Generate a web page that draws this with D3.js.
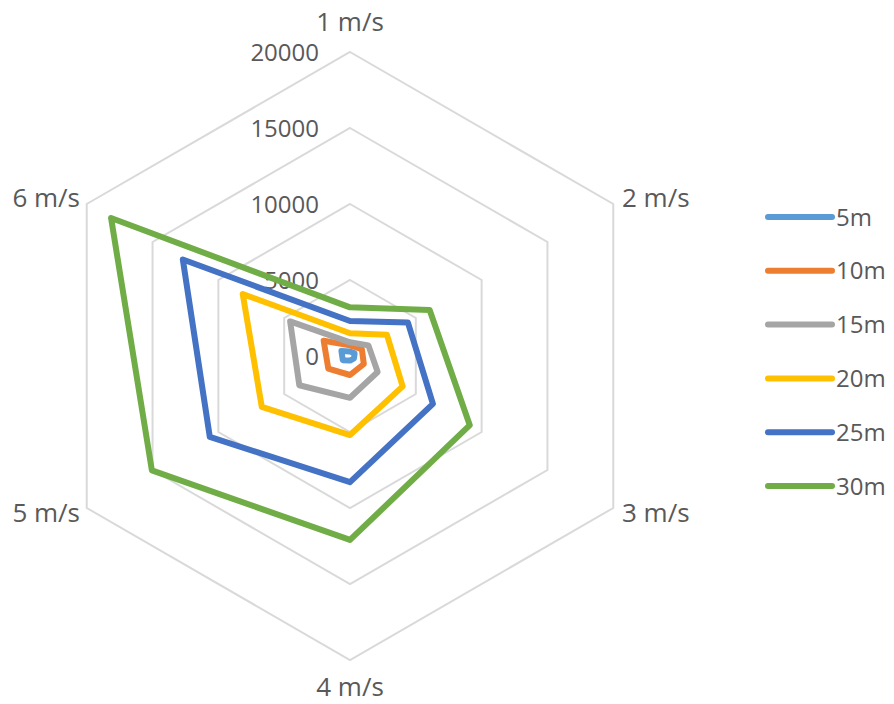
<!DOCTYPE html>
<html>
<head>
<meta charset="utf-8">
<script src="https://cdn.jsdelivr.net/npm/d3@7"></script>
<style>
  html, body { margin: 0; padding: 0; background: #fff; }
  svg { display: block; font-family: "Open Sans", sans-serif; }
</style>
</head>
<body>
<svg id="chart" width="894" height="704"></svg>
<script>
const categories = ["1 m/s", "2 m/s", "3 m/s", "4 m/s", "5 m/s", "6 m/s"];
const seriesNames = ["5m", "10m", "15m", "20m", "25m", "30m"];
const s5m  = [300, 350, 300, 300, 550, 650];
const s10m = [700, 900, 1050, 1250, 1650, 2000];
const s15m = [900, 1400, 2100, 2750, 3850, 4550];
const s20m = [1500, 2800, 4000, 5200, 6700, 8150];
const s25m = [2300, 4400, 6300, 8300, 10650, 12700];
const s30m = [3200, 6050, 9100, 12100, 15050, 18150];
const tickValues = [0, 5000, 10000, 15000, 20000];
const colors = ["#5B9BD5", "#ED7D31", "#A5A5A5", "#FFC000", "#4472C4", "#70AD47"];

const seriesValues = [s5m, s10m, s15m, s20m, s25m, s30m];
const series = seriesNames.map((n, i) => ({ name: n, values: seriesValues[i], color: colors[i] }));

const svg = d3.select("#chart");
const cx = 350, cy = 356, R = 304;
const r = d3.scaleLinear().domain([0, 20000]).range([0, R]);
const angle = d3.scalePoint().domain(categories).range([0, 2 * Math.PI * (categories.length - 1) / categories.length]);

const g = svg.append("g").attr("transform", `translate(${cx},${cy})`);
const radial = d3.lineRadial()
  .angle((d, i) => angle(categories[i]))
  .radius(d => r(d))
  .curve(d3.curveLinearClosed);

// grid hexagons
g.append("g").selectAll("path")
  .data(tickValues.filter(t => t > 0))
  .join("path")
  .attr("d", t => radial(categories.map(() => t)))
  .attr("fill", "none")
  .attr("stroke", "#D9D9D9")
  .attr("stroke-width", 2);

// tick labels
g.append("g").selectAll("text")
  .data(tickValues)
  .join("text")
  .attr("x", -31)
  .attr("y", t => -r(t))
  .attr("dy", "0.36em")
  .attr("text-anchor", "end")
  .attr("font-size", 24)
  .attr("fill", "#595959")
  .text(t => t);

// series
g.append("g").selectAll("path")
  .data(series)
  .join("path")
  .attr("d", s => radial(s.values))
  .attr("fill", "none")
  .attr("stroke", s => s.color)
  .attr("stroke-width", 6)
  .attr("stroke-linejoin", "round");

// category labels
const labelPos = [
  { x: 0, y: -334, anchor: "middle" },
  { x: 272, y: -158, anchor: "start" },
  { x: 272, y: 157, anchor: "start" },
  { x: 0, y: 331, anchor: "middle" },
  { x: -270, y: 157, anchor: "end" },
  { x: -270, y: -158, anchor: "end" }
];
g.append("g").selectAll("text")
  .data(categories)
  .join("text")
  .attr("x", (d, i) => labelPos[i].x)
  .attr("y", (d, i) => labelPos[i].y)
  .attr("dy", "0.36em")
  .attr("text-anchor", (d, i) => labelPos[i].anchor)
  .attr("font-size", 26)
  .attr("fill", "#595959")
  .text(d => d);

// legend
const legend = svg.append("g");
const ly = d3.scalePoint().domain(seriesNames).range([217, 486]);
const items = legend.selectAll("g").data(series).join("g")
  .attr("transform", s => `translate(0,${ly(s.name)})`);
items.append("line")
  .attr("x1", 768).attr("x2", 832)
  .attr("stroke", s => s.color)
  .attr("stroke-width", 6)
  .attr("stroke-linecap", "round");
items.append("text")
  .attr("x", 836)
  .attr("dy", "0.36em")
  .attr("font-size", 24)
  .attr("fill", "#595959")
  .text(s => s.name);
</script>
</body>
</html>
